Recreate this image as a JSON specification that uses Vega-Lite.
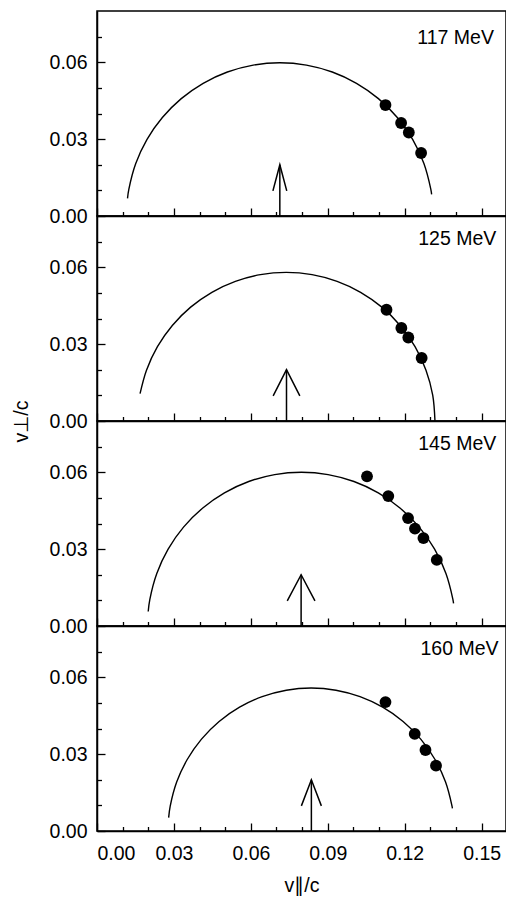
{
  "$schema": "https://vega.github.io/schema/vega-lite/v6.json",
  "background": "white",
  "padding": {"left": 10, "top": 10, "right": 0, "bottom": 0},
  "spacing": 0,
  "bounds": "flush",
  "config": {
    "view": {"stroke": "black", "strokeWidth": 1.5},
    "font": "Liberation Sans",
    "axis": {"domainColor": "black", "domainWidth": 1.5, "tickColor": "black", "tickWidth": 1.3, "labelColor": "black", "labelFont": "Liberation Sans", "labelFontSize": 19.5, "titleFont": "Liberation Sans", "titleFontSize": 19.5, "titleFontWeight": "normal", "titleColor": "black", "grid": false}
  },
  "datasets": {
    "curve": [
      {"p":"117","i":0,"x":0.0119,"y":0.00687},{"p":"117","i":1,"x":0.01241,"y":0.01038},{"p":"117","i":2,"x":0.01511,"y":0.02045},{"p":"117","i":3,"x":0.01951,"y":0.0299},{"p":"117","i":4,"x":0.02549,"y":0.03844},{"p":"117","i":5,"x":0.03286,"y":0.04581},{"p":"117","i":6,"x":0.0414,"y":0.05179},{"p":"117","i":7,"x":0.05085,"y":0.05619},{"p":"117","i":8,"x":0.06092,"y":0.05889},{"p":"117","i":9,"x":0.0713,"y":0.0598},{"p":"117","i":10,"x":0.08168,"y":0.05889},{"p":"117","i":11,"x":0.09175,"y":0.05619},{"p":"117","i":12,"x":0.1012,"y":0.05179},{"p":"117","i":13,"x":0.10974,"y":0.04581},{"p":"117","i":14,"x":0.11711,"y":0.03844},{"p":"117","i":15,"x":0.12309,"y":0.0299},{"p":"117","i":16,"x":0.12749,"y":0.02045},{"p":"117","i":17,"x":0.13019,"y":0.01038},{"p":"117","i":18,"x":0.1305,"y":0.00843},
      {"p":"125","i":0,"x":0.01679,"y":0.01067},{"p":"125","i":1,"x":0.0193,"y":0.01984},{"p":"125","i":2,"x":0.02357,"y":0.029},{"p":"125","i":3,"x":0.02937,"y":0.03728},{"p":"125","i":4,"x":0.03652,"y":0.04443},{"p":"125","i":5,"x":0.0448,"y":0.05023},{"p":"125","i":6,"x":0.05396,"y":0.0545},{"p":"125","i":7,"x":0.06373,"y":0.05712},{"p":"125","i":8,"x":0.0738,"y":0.058},{"p":"125","i":9,"x":0.08387,"y":0.05712},{"p":"125","i":10,"x":0.09364,"y":0.0545},{"p":"125","i":11,"x":0.1028,"y":0.05023},{"p":"125","i":12,"x":0.11108,"y":0.04443},{"p":"125","i":13,"x":0.11823,"y":0.03728},{"p":"125","i":14,"x":0.12403,"y":0.029},{"p":"125","i":15,"x":0.1283,"y":0.01984},{"p":"125","i":16,"x":0.13092,"y":0.01007},{"p":"125","i":17,"x":0.1318,"y":0},
      {"p":"145","i":0,"x":0.01997,"y":0.00565},{"p":"145","i":1,"x":0.02061,"y":0.01042},{"p":"145","i":2,"x":0.02332,"y":0.02052},{"p":"145","i":3,"x":0.02774,"y":0.03},{"p":"145","i":4,"x":0.03374,"y":0.03857},{"p":"145","i":5,"x":0.04113,"y":0.04596},{"p":"145","i":6,"x":0.0497,"y":0.05196},{"p":"145","i":7,"x":0.05918,"y":0.05638},{"p":"145","i":8,"x":0.06928,"y":0.05909},{"p":"145","i":9,"x":0.0797,"y":0.06},{"p":"145","i":10,"x":0.09012,"y":0.05909},{"p":"145","i":11,"x":0.10022,"y":0.05638},{"p":"145","i":12,"x":0.1097,"y":0.05196},{"p":"145","i":13,"x":0.11827,"y":0.04596},{"p":"145","i":14,"x":0.12566,"y":0.03857},{"p":"145","i":15,"x":0.13166,"y":0.03},{"p":"145","i":16,"x":0.13608,"y":0.02052},{"p":"145","i":17,"x":0.13879,"y":0.01042},{"p":"145","i":18,"x":0.13905,"y":0.0088},
      {"p":"160","i":0,"x":0.02794,"y":0.0052},{"p":"160","i":1,"x":0.02855,"y":0.00969},{"p":"160","i":2,"x":0.03107,"y":0.01908},{"p":"160","i":3,"x":0.03518,"y":0.0279},{"p":"160","i":4,"x":0.04075,"y":0.03587},{"p":"160","i":5,"x":0.04763,"y":0.04275},{"p":"160","i":6,"x":0.0556,"y":0.04832},{"p":"160","i":7,"x":0.06442,"y":0.05243},{"p":"160","i":8,"x":0.07381,"y":0.05495},{"p":"160","i":9,"x":0.0835,"y":0.0558},{"p":"160","i":10,"x":0.09319,"y":0.05495},{"p":"160","i":11,"x":0.10258,"y":0.05243},{"p":"160","i":12,"x":0.1114,"y":0.04832},{"p":"160","i":13,"x":0.11937,"y":0.04275},{"p":"160","i":14,"x":0.12625,"y":0.03587},{"p":"160","i":15,"x":0.13182,"y":0.0279},{"p":"160","i":16,"x":0.13593,"y":0.01908},{"p":"160","i":17,"x":0.13845,"y":0.00969},{"p":"160","i":18,"x":0.1386,"y":0.0088}
    ],
    "pts": [
      {"p":"117","x":0.1125,"y":0.0433},{"p":"117","x":0.1186,"y":0.0363},{"p":"117","x":0.1216,"y":0.0326},{"p":"117","x":0.1264,"y":0.0246},
      {"p":"125","x":0.1129,"y":0.0434},{"p":"125","x":0.1187,"y":0.0363},{"p":"125","x":0.1214,"y":0.0326},{"p":"125","x":0.1266,"y":0.0246},
      {"p":"145","x":0.1053,"y":0.0584},{"p":"145","x":0.1136,"y":0.0507},{"p":"145","x":0.1213,"y":0.0421},{"p":"145","x":0.124,"y":0.038},{"p":"145","x":0.1273,"y":0.0343},{"p":"145","x":0.1325,"y":0.0258},
      {"p":"160","x":0.1125,"y":0.0503},{"p":"160","x":0.1239,"y":0.0379},{"p":"160","x":0.1281,"y":0.0316},{"p":"160","x":0.1322,"y":0.0255}
    ],
    "arrow": [
      {"p":"117","s":"shaft","i":0,"x":0.0713,"y":0},{"p":"117","s":"shaft","i":1,"x":0.0713,"y":0.02},{"p":"117","s":"head","i":0,"x":0.0686,"y":0.0098},{"p":"117","s":"head","i":1,"x":0.0713,"y":0.02},{"p":"117","s":"head","i":2,"x":0.074,"y":0.0098},
      {"p":"125","s":"shaft","i":0,"x":0.0739,"y":0},{"p":"125","s":"shaft","i":1,"x":0.0739,"y":0.02},{"p":"125","s":"head","i":0,"x":0.0687,"y":0.0098},{"p":"125","s":"head","i":1,"x":0.0739,"y":0.02},{"p":"125","s":"head","i":2,"x":0.0791,"y":0.0098},
      {"p":"145","s":"shaft","i":0,"x":0.0796,"y":0},{"p":"145","s":"shaft","i":1,"x":0.0796,"y":0.02},{"p":"145","s":"head","i":0,"x":0.0742,"y":0.0098},{"p":"145","s":"head","i":1,"x":0.0796,"y":0.02},{"p":"145","s":"head","i":2,"x":0.085,"y":0.0098},
      {"p":"160","s":"shaft","i":0,"x":0.0836,"y":0},{"p":"160","s":"shaft","i":1,"x":0.0836,"y":0.02},{"p":"160","s":"head","i":0,"x":0.0797,"y":0.0098},{"p":"160","s":"head","i":1,"x":0.0836,"y":0.02},{"p":"160","s":"head","i":2,"x":0.0875,"y":0.0098}
    ],
    "lab": [
      {"p":"117","x":0.1548,"y":0.067,"t":"117 MeV"},
      {"p":"125","x":0.1557,"y":0.0686,"t":"125 MeV"},
      {"p":"145","x":0.1557,"y":0.0686,"t":"145 MeV"},
      {"p":"160","x":0.1566,"y":0.0686,"t":"160 MeV"}
    ]
  },
  "vconcat": [
    {
      "width": 409, "height": 205,
      "resolve": {"axis": {"x": "independent", "y": "independent"}},
      "layer": [
        {"data": {"name": "curve"}, "transform": [{"filter": "datum.p == '117'"}],
         "mark": {"type": "line", "interpolate": "catmull-rom", "color": "black", "strokeWidth": 1.4},
         "encoding": {
           "x": {"field": "x", "type": "quantitative", "scale": {"domain": [0, 0.1595], "nice": false, "zero": false}, "axis": {"orient": "bottom", "values": [0, 0.03, 0.06, 0.09, 0.12, 0.15], "tickSize": -8, "labels": false, "title": null}},
           "y": {"field": "y", "type": "quantitative", "scale": {"domain": [0, 0.08], "nice": false, "zero": false}, "axis": {"orient": "left", "values": [0, 0.03, 0.06], "tickSize": -8, "format": ".2f", "labelPadding": 18, "title": null}},
           "order": {"field": "i", "type": "quantitative"}
         }},
        {"data": {"name": "pts"}, "transform": [{"filter": "datum.p == '117'"}],
         "mark": {"type": "circle", "size": 140, "color": "black", "opacity": 1},
         "encoding": {
           "x": {"field": "x", "type": "quantitative", "axis": {"orient": "bottom", "values": [0.01, 0.02, 0.04, 0.05, 0.07, 0.08, 0.1, 0.11, 0.13, 0.14], "tickSize": -4.5, "labels": false, "domain": false, "title": null}},
           "y": {"field": "y", "type": "quantitative", "axis": {"orient": "left", "values": [0.01, 0.02, 0.04, 0.05, 0.07], "tickSize": -4.5, "labels": false, "domain": false, "title": null}}
         }},
        {"data": {"name": "arrow"}, "transform": [{"filter": "datum.p == '117'"}],
         "mark": {"type": "line", "color": "black", "strokeWidth": 1.5},
         "encoding": {
           "x": {"field": "x", "type": "quantitative", "axis": null},
           "y": {"field": "y", "type": "quantitative", "axis": null},
           "detail": {"field": "s"},
           "order": {"field": "i", "type": "quantitative"}
         }},
        {"data": {"name": "lab"}, "transform": [{"filter": "datum.p == '117'"}],
         "mark": {"type": "text", "align": "right", "baseline": "alphabetic", "font": "Liberation Sans", "fontSize": 19.5, "color": "black"},
         "encoding": {
           "x": {"field": "x", "type": "quantitative", "axis": null},
           "y": {"field": "y", "type": "quantitative", "axis": null},
           "text": {"field": "t"}
         }}
      ]
    },
    {
      "width": 409, "height": 205,
      "resolve": {"axis": {"x": "independent", "y": "independent"}},
      "layer": [
        {"data": {"name": "curve"}, "transform": [{"filter": "datum.p == '125'"}],
         "mark": {"type": "line", "interpolate": "catmull-rom", "color": "black", "strokeWidth": 1.4},
         "encoding": {
           "x": {"field": "x", "type": "quantitative", "scale": {"domain": [0, 0.1595], "nice": false, "zero": false}, "axis": {"orient": "bottom", "values": [0, 0.03, 0.06, 0.09, 0.12, 0.15], "tickSize": -8, "labels": false, "title": null}},
           "y": {"field": "y", "type": "quantitative", "scale": {"domain": [0, 0.08], "nice": false, "zero": false}, "axis": {"orient": "left", "values": [0, 0.03, 0.06], "tickSize": -8, "format": ".2f", "labelPadding": 18, "title": "v⊥/c", "titleY": 205, "titlePadding": 18}},
           "order": {"field": "i", "type": "quantitative"}
         }},
        {"data": {"name": "pts"}, "transform": [{"filter": "datum.p == '125'"}],
         "mark": {"type": "circle", "size": 140, "color": "black", "opacity": 1},
         "encoding": {
           "x": {"field": "x", "type": "quantitative", "axis": {"orient": "bottom", "values": [0.01, 0.02, 0.04, 0.05, 0.07, 0.08, 0.1, 0.11, 0.13, 0.14], "tickSize": -4.5, "labels": false, "domain": false, "title": null}},
           "y": {"field": "y", "type": "quantitative", "axis": {"orient": "left", "values": [0.01, 0.02, 0.04, 0.05, 0.07], "tickSize": -4.5, "labels": false, "domain": false, "title": null}}
         }},
        {"data": {"name": "arrow"}, "transform": [{"filter": "datum.p == '125'"}],
         "mark": {"type": "line", "color": "black", "strokeWidth": 1.5},
         "encoding": {
           "x": {"field": "x", "type": "quantitative", "axis": null},
           "y": {"field": "y", "type": "quantitative", "axis": null},
           "detail": {"field": "s"},
           "order": {"field": "i", "type": "quantitative"}
         }},
        {"data": {"name": "lab"}, "transform": [{"filter": "datum.p == '125'"}],
         "mark": {"type": "text", "align": "right", "baseline": "alphabetic", "font": "Liberation Sans", "fontSize": 19.5, "color": "black"},
         "encoding": {
           "x": {"field": "x", "type": "quantitative", "axis": null},
           "y": {"field": "y", "type": "quantitative", "axis": null},
           "text": {"field": "t"}
         }}
      ]
    },
    {
      "width": 409, "height": 205,
      "resolve": {"axis": {"x": "independent", "y": "independent"}},
      "layer": [
        {"data": {"name": "curve"}, "transform": [{"filter": "datum.p == '145'"}],
         "mark": {"type": "line", "interpolate": "catmull-rom", "color": "black", "strokeWidth": 1.4},
         "encoding": {
           "x": {"field": "x", "type": "quantitative", "scale": {"domain": [0, 0.1595], "nice": false, "zero": false}, "axis": {"orient": "bottom", "values": [0, 0.03, 0.06, 0.09, 0.12, 0.15], "tickSize": -8, "labels": false, "title": null}},
           "y": {"field": "y", "type": "quantitative", "scale": {"domain": [0, 0.08], "nice": false, "zero": false}, "axis": {"orient": "left", "values": [0, 0.03, 0.06], "tickSize": -8, "format": ".2f", "labelPadding": 18, "title": null}},
           "order": {"field": "i", "type": "quantitative"}
         }},
        {"data": {"name": "pts"}, "transform": [{"filter": "datum.p == '145'"}],
         "mark": {"type": "circle", "size": 140, "color": "black", "opacity": 1},
         "encoding": {
           "x": {"field": "x", "type": "quantitative", "axis": {"orient": "bottom", "values": [0.01, 0.02, 0.04, 0.05, 0.07, 0.08, 0.1, 0.11, 0.13, 0.14], "tickSize": -4.5, "labels": false, "domain": false, "title": null}},
           "y": {"field": "y", "type": "quantitative", "axis": {"orient": "left", "values": [0.01, 0.02, 0.04, 0.05, 0.07], "tickSize": -4.5, "labels": false, "domain": false, "title": null}}
         }},
        {"data": {"name": "arrow"}, "transform": [{"filter": "datum.p == '145'"}],
         "mark": {"type": "line", "color": "black", "strokeWidth": 1.5},
         "encoding": {
           "x": {"field": "x", "type": "quantitative", "axis": null},
           "y": {"field": "y", "type": "quantitative", "axis": null},
           "detail": {"field": "s"},
           "order": {"field": "i", "type": "quantitative"}
         }},
        {"data": {"name": "lab"}, "transform": [{"filter": "datum.p == '145'"}],
         "mark": {"type": "text", "align": "right", "baseline": "alphabetic", "font": "Liberation Sans", "fontSize": 19.5, "color": "black"},
         "encoding": {
           "x": {"field": "x", "type": "quantitative", "axis": null},
           "y": {"field": "y", "type": "quantitative", "axis": null},
           "text": {"field": "t"}
         }}
      ]
    },
    {
      "width": 409, "height": 205,
      "resolve": {"axis": {"x": "independent", "y": "independent"}},
      "layer": [
        {"data": {"name": "curve"}, "transform": [{"filter": "datum.p == '160'"}],
         "mark": {"type": "line", "interpolate": "catmull-rom", "color": "black", "strokeWidth": 1.4},
         "encoding": {
           "x": {"field": "x", "type": "quantitative", "scale": {"domain": [0, 0.1595], "nice": false, "zero": false}, "axis": {"orient": "bottom", "values": [0, 0.03, 0.06, 0.09, 0.12, 0.15], "tickSize": -8, "format": ".2f", "labelPadding": 21, "title": "v∥/c", "titlePadding": 14}},
           "y": {"field": "y", "type": "quantitative", "scale": {"domain": [0, 0.08], "nice": false, "zero": false}, "axis": {"orient": "left", "values": [0, 0.03, 0.06], "tickSize": -8, "format": ".2f", "labelPadding": 18, "title": null}},
           "order": {"field": "i", "type": "quantitative"}
         }},
        {"data": {"name": "pts"}, "transform": [{"filter": "datum.p == '160'"}],
         "mark": {"type": "circle", "size": 140, "color": "black", "opacity": 1},
         "encoding": {
           "x": {"field": "x", "type": "quantitative", "axis": {"orient": "bottom", "values": [0.01, 0.02, 0.04, 0.05, 0.07, 0.08, 0.1, 0.11, 0.13, 0.14], "tickSize": -4.5, "labels": false, "domain": false, "title": null}},
           "y": {"field": "y", "type": "quantitative", "axis": {"orient": "left", "values": [0.01, 0.02, 0.04, 0.05, 0.07], "tickSize": -4.5, "labels": false, "domain": false, "title": null}}
         }},
        {"data": {"name": "arrow"}, "transform": [{"filter": "datum.p == '160'"}],
         "mark": {"type": "line", "color": "black", "strokeWidth": 1.5},
         "encoding": {
           "x": {"field": "x", "type": "quantitative", "axis": null},
           "y": {"field": "y", "type": "quantitative", "axis": null},
           "detail": {"field": "s"},
           "order": {"field": "i", "type": "quantitative"}
         }},
        {"data": {"name": "lab"}, "transform": [{"filter": "datum.p == '160'"}],
         "mark": {"type": "text", "align": "right", "baseline": "alphabetic", "font": "Liberation Sans", "fontSize": 19.5, "color": "black"},
         "encoding": {
           "x": {"field": "x", "type": "quantitative", "axis": null},
           "y": {"field": "y", "type": "quantitative", "axis": null},
           "text": {"field": "t"}
         }}
      ]
    }
  ]
}
